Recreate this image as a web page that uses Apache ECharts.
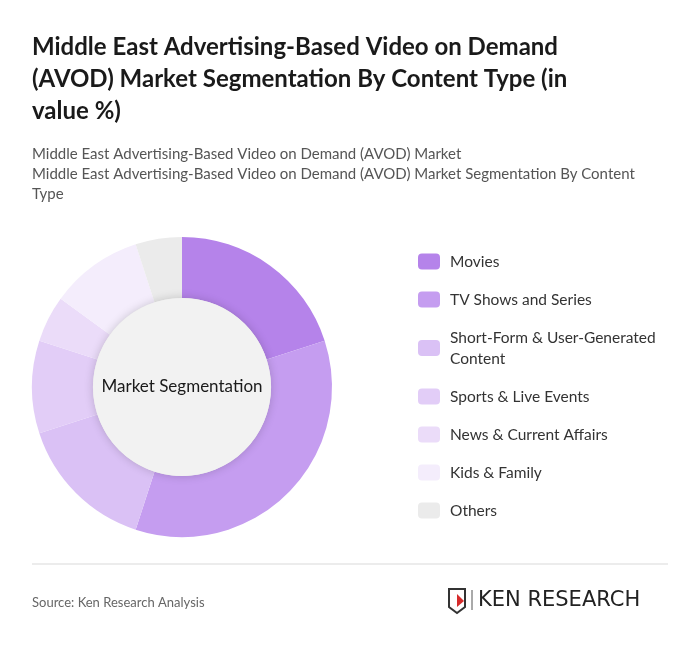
<!DOCTYPE html>
<html>
<head>
<meta charset="utf-8">
<script src="https://cdn.jsdelivr.net/npm/echarts@6/dist/echarts.min.js"></script>
<style>
  html, body { margin: 0; padding: 0; background: #fff; }
  #chart { width: 700px; height: 650px; }
</style>
</head>
<body>
<div id="chart"></div>
<script>
// content types and their share (%)
const categories = [
    'Movies',
    'TV Shows and Series',
    'Short-Form & User-Generated\nContent',
    'Sports & Live Events',
    'News & Current Affairs',
    'Kids & Family',
    'Others'
];
const shares = [20, 35, 15, 10, 5, 10, 5];
const colors = ['#b583ea', '#c59df0', '#dac1f5', '#e2cdf7', '#ebdcf9', '#f4edfc', '#ebebeb'];

const font = 'Lato, "Noto Sans", sans-serif';
const myChart = echarts.init(document.getElementById('chart'));

let pieData = [];
for (let i = 0; i < categories.length; i++) {
    pieData.push({ name: categories[i], value: shares[i] });
}

myChart.setOption({
    backgroundColor: '#ffffff',
    color: colors,
    animation: false,
    title: [{
        text: 'Middle East Advertising-Based Video on Demand\n(AVOD) Market Segmentation By Content Type (in\nvalue %)',
        left: 32, top: 31, padding: 0,
        textStyle: { fontFamily: font, fontSize: 24, fontWeight: 'bold', color: '#1a1a1a', lineHeight: 32 }
    }, {
        text: 'Middle East Advertising-Based Video on Demand (AVOD) Market\nMiddle East Advertising-Based Video on Demand (AVOD) Market Segmentation By Content\nType',
        left: 32, top: 144, padding: 0,
        textStyle: { fontFamily: font, fontSize: 15, fontWeight: 'normal', color: '#555555', lineHeight: 20 }
    }],
    legend: {
        orient: 'vertical',
        left: 413, top: 246,
        itemWidth: 22, itemHeight: 16,
        itemGap: 17,
        icon: 'roundRect',
        textStyle: { fontFamily: font, fontSize: 15.5, color: '#333333', lineHeight: 21, padding: [0, 0, 0, 5] },
        data: categories
    },
    series: [{
        type: 'pie',
        radius: [89, 150],
        center: [182, 387],
        startAngle: 90,
        clockwise: true,
        label: { show: false },
        labelLine: { show: false },
        emphasis: { disabled: true },
        data: pieData
    }, {
        type: 'pie',
        radius: [0, 89],
        center: [182, 387],
        silent: true,
        legendHoverLink: false,
        itemStyle: { color: '#f2f2f2', shadowBlur: 10, shadowColor: 'rgba(0,0,0,0.18)' },
        label: {
            show: true, position: 'center',
            formatter: 'Market Segmentation',
            fontFamily: font, fontSize: 17, color: '#1a1a1a'
        },
        labelLine: { show: false },
        data: [{ name: 'center', value: 1 }],
        tooltip: { show: false }
    }],
    graphic: [{
        type: 'line',
        shape: { x1: 32, y1: 564, x2: 668, y2: 564 },
        style: { stroke: '#d9d9d9', lineWidth: 1 }
    }, {
        type: 'text', left: 32, top: 596,
        style: { text: 'Source: Ken Research Analysis', font: '13px ' + font, fill: '#666666' }
    }, {
        type: 'polygon',
        shape: { points: [[449, 589], [465, 589], [465, 607], [457, 613], [449, 607]] },
        style: { fill: 'none', stroke: '#333', lineWidth: 2 }
    }, {
        type: 'polygon',
        shape: { points: [[457, 594], [464, 601], [457, 607]] },
        style: { fill: '#d62b2b' }
    }, {
        type: 'line',
        shape: { x1: 472, y1: 590, x2: 472, y2: 610 },
        style: { stroke: '#555', lineWidth: 1 }
    }, {
        type: 'text', left: 478, top: 590,
        style: { text: 'KEN RESEARCH', font: '21px "DejaVu Sans", sans-serif', fill: '#222', letterSpacing: 1.8 }
    }]
});
</script>
</body>
</html>
